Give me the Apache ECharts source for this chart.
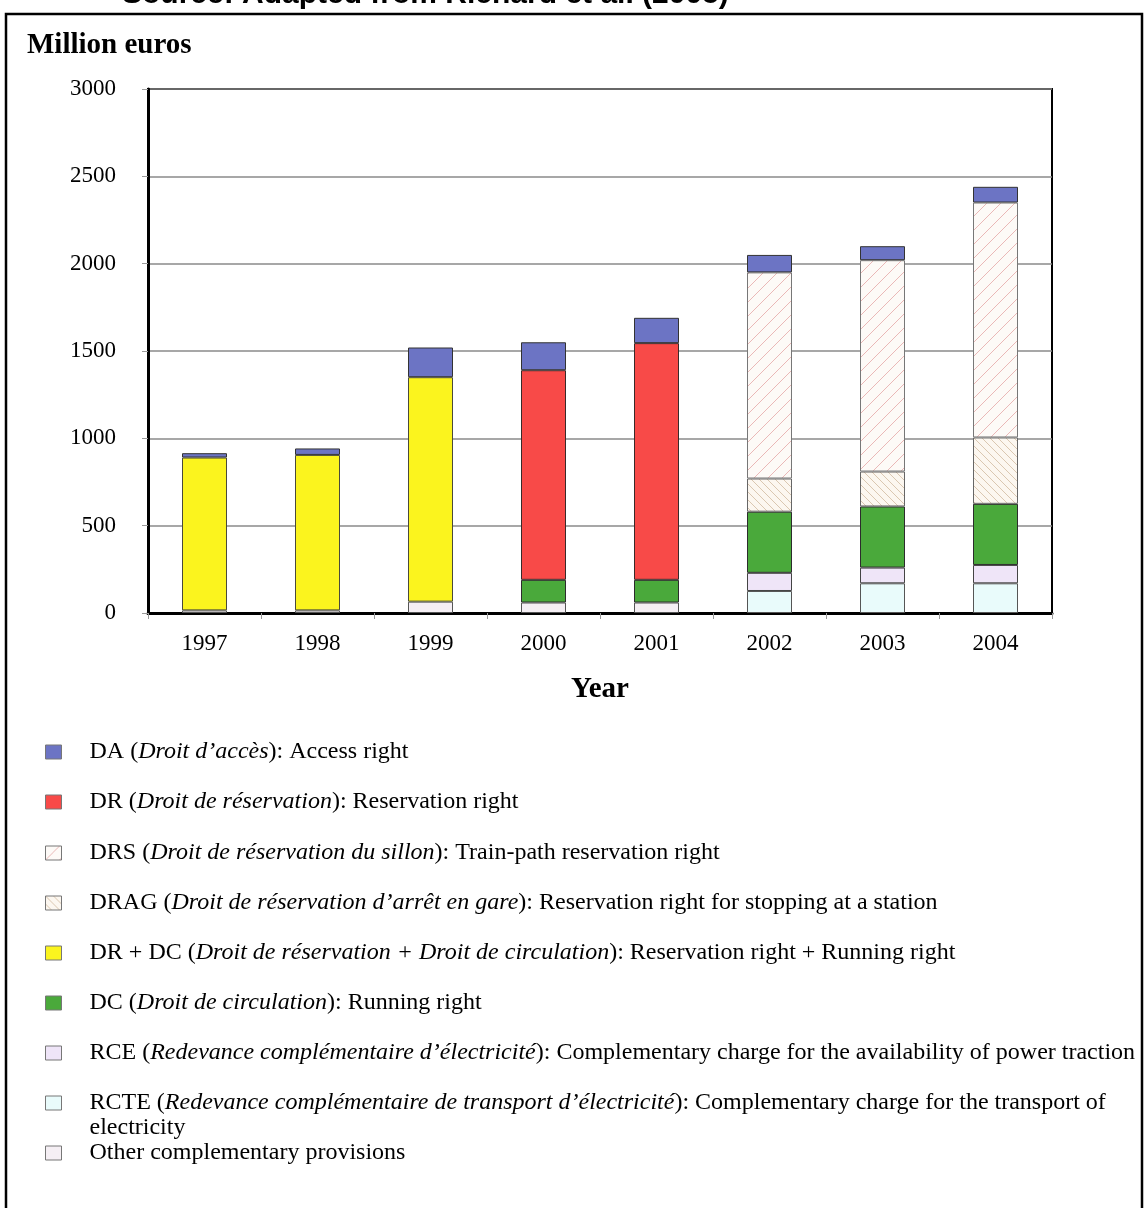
<!DOCTYPE html>
<html>
<head>
<meta charset="utf-8">
<script src="https://cdn.jsdelivr.net/npm/echarts@6/dist/echarts.min.js"></script>
<style>
  html, body { margin: 0; padding: 0; background: #fff; }
  #chart { width: 1147px; height: 1208px; }
</style>
</head>
<body>
<div id="chart"></div>
<script>
// Infrastructure charges by component, million euros
const years = ['1997', '1998', '1999', '2000', '2001', '2002', '2003', '2004'];
const yTicks = [0, 500, 1000, 1500, 2000, 2500, 3000];

// Stacked components, bottom to top
const other = [15, 15, 65, 60, 60, null, null, null];
const rcte  = [null, null, null, null, null, 126, 170, 170];
const rce   = [null, null, null, null, null, 104, 90, 105];
const dc    = [null, null, null, 130, 130, 350, 350, 350];
const drdc  = [875, 890, 1285, null, null, null, null, null];
const dr    = [null, null, null, 1200, 1355, null, null, null];
const drag  = [null, null, null, null, null, 190, 200, 380];
const drs   = [null, null, null, null, null, 1180, 1210, 1345];
const da    = [25, 37, 170, 160, 145, 100, 80, 90];

// Legend entries, in display order
const legendNames = ['DA', 'DR', 'DRS', 'DRAG', 'DR + DC', 'DC', 'RCE', 'RCTE', 'Other'];
const legendTexts = [
  'DA ({i|Droit d’accès}): Access right',
  'DR ({i|Droit de réservation}): Reservation right',
  'DRS ({i|Droit de réservation du sillon}): Train-path reservation right',
  'DRAG ({i|Droit de réservation d’arrêt en gare}): Reservation right for stopping at a station',
  'DR + DC ({i|Droit de réservation + Droit de circulation}): Reservation right + Running right',
  'DC ({i|Droit de circulation}): Running right',
  'RCE ({i|Redevance complémentaire d’électricité}): Complementary charge for the availability of power traction',
  'RCTE ({i|Redevance complémentaire de transport d’électricité}): Complementary charge for the transport of\nelectricity',
  'Other complementary provisions'
];

const SERIF = '"Liberation Serif", "Times New Roman", serif';

function hatch(bg, line, step, forward, width) {
  const c = document.createElement('canvas');
  c.width = step; c.height = step;
  const g = c.getContext('2d');
  g.fillStyle = bg;
  g.fillRect(0, 0, step, step);
  g.strokeStyle = line;
  g.lineWidth = width;
  g.beginPath();
  if (forward) {
    g.moveTo(-1, step + 1); g.lineTo(step + 1, -1);
    g.moveTo(-1, 1); g.lineTo(1, -1);
    g.moveTo(step - 1, step + 1); g.lineTo(step + 1, step - 1);
  } else {
    g.moveTo(-1, -1); g.lineTo(step + 1, step + 1);
    g.moveTo(step - 1, -1); g.lineTo(step + 1, 1);
    g.moveTo(-1, step - 1); g.lineTo(1, step + 1);
  }
  g.stroke();
  return { image: c, repeat: 'repeat' };
}

const drsFill = hatch('#fdfaf7', 'rgba(222,140,140,0.6)', 14, true, 1);
const dragFill = hatch('#fcf7f0', 'rgba(190,160,125,0.55)', 8, false, 1);

function bar(name, data, color, border) {
  return {
    name: name,
    type: 'bar',
    stack: 'total',
    data: data,
    barWidth: 45,
    itemStyle: { color: color, borderColor: border || '#333', borderWidth: 1 },
    emphasis: { disabled: true }
  };
}

const series = [
  bar('Other', other, '#f5eff4', '#555'),
  bar('RCTE', rcte, '#e9fbfb', '#555'),
  bar('RCE', rce, '#efe5f8', '#444'),
  bar('DC', dc, '#4aa93b', '#2c2c2c'),
  bar('DR + DC', drdc, '#fbf41e', '#4a4a3a'),
  bar('DR', dr, '#f84a48', '#3a2a2a'),
  bar('DRAG', drag, dragFill, '#666'),
  bar('DRS', drs, drsFill, '#777'),
  bar('DA', da, '#6c74c4', '#333')
];

// One legend block per row so every entry sits on its own line
const rowCenters = [752, 802, 853, 903, 953, 1003, 1053, 1103, 1153];
const legends = legendNames.map(function (name, k) {
  const twoLine = legendTexts[k].indexOf('\n') >= 0;
  return {
    data: [name],
    orient: 'vertical',
    left: 45,
    top: twoLine ? rowCenters[k] - 12.5 * 3 : rowCenters[k] - 12.5,
    icon: 'rect',
    itemWidth: 16,
    itemHeight: 14,
    selectedMode: false,
    padding: 0,
    formatter: function () { return legendTexts[k]; },
    itemStyle: { borderColor: '#777', borderWidth: 1 },
    textStyle: {
      fontFamily: SERIF,
      fontSize: 24,
      lineHeight: 25,
      color: '#000',
      padding: twoLine ? [25, 0, 0, 23] : [0, 0, 0, 23],
      rich: {
        i: { fontFamily: SERIF, fontSize: 24, lineHeight: 25, fontStyle: 'italic', color: '#000' }
      }
    }
  };
});

const chart = echarts.init(document.getElementById('chart'), null, { renderer: 'canvas' });
chart.setOption({
  backgroundColor: '#fff',
  animation: false,
  title: {
    text: 'Million euros',
    left: 27,
    top: 31,
    padding: 0,
    textStyle: { fontFamily: SERIF, fontSize: 29, fontWeight: 'bold', color: '#000' }
  },
  graphic: [
    {
      type: 'rect',
      shape: { x: 6, y: 14, width: 1136, height: 1230 },
      style: { fill: 'none', stroke: '#000', lineWidth: 2.5 },
      silent: true
    },
    {
      type: 'text',
      x: 122,
      y: -5,
      style: {
        text: 'Source: Adapted from Richard et al. (2005)',
        font: 'bold 30px "Liberation Sans", Arial, sans-serif',
        fill: '#000',
        textVerticalAlign: 'middle'
      },
      silent: true
    }
  ],
  legend: legends,
  grid: {
    left: 148,
    top: 89,
    right: 95,
    bottom: 595,
    show: true,
    borderColor: '#000',
    borderWidth: 2,
    containLabel: false
  },
  xAxis: {
    type: 'category',
    data: years,
    name: 'Year',
    nameLocation: 'middle',
    nameGap: 62,
    nameTextStyle: { fontFamily: SERIF, fontSize: 29, fontWeight: 'bold', color: '#000' },
    axisLine: { lineStyle: { color: '#000', width: 3 } },
    axisTick: { show: true, length: 6, lineStyle: { color: '#999', width: 1 } },
    axisLabel: { fontFamily: SERIF, fontSize: 23, color: '#000', margin: 19 },
    splitLine: { show: false }
  },
  yAxis: {
    type: 'value',
    min: yTicks[0],
    max: yTicks[yTicks.length - 1],
    interval: yTicks[1] - yTicks[0],
    axisLine: { show: true, lineStyle: { color: '#000', width: 3 } },
    axisTick: { show: true, length: 6, lineStyle: { color: '#999', width: 1 } },
    axisLabel: {
      fontFamily: SERIF, fontSize: 23, color: '#000', margin: 32,
      formatter: function (v) { return String(v); }
    },
    splitLine: { show: true, lineStyle: { color: '#8a8a8a', width: 1.5 } }
  },
  series: series
});
</script>
</body>
</html>
